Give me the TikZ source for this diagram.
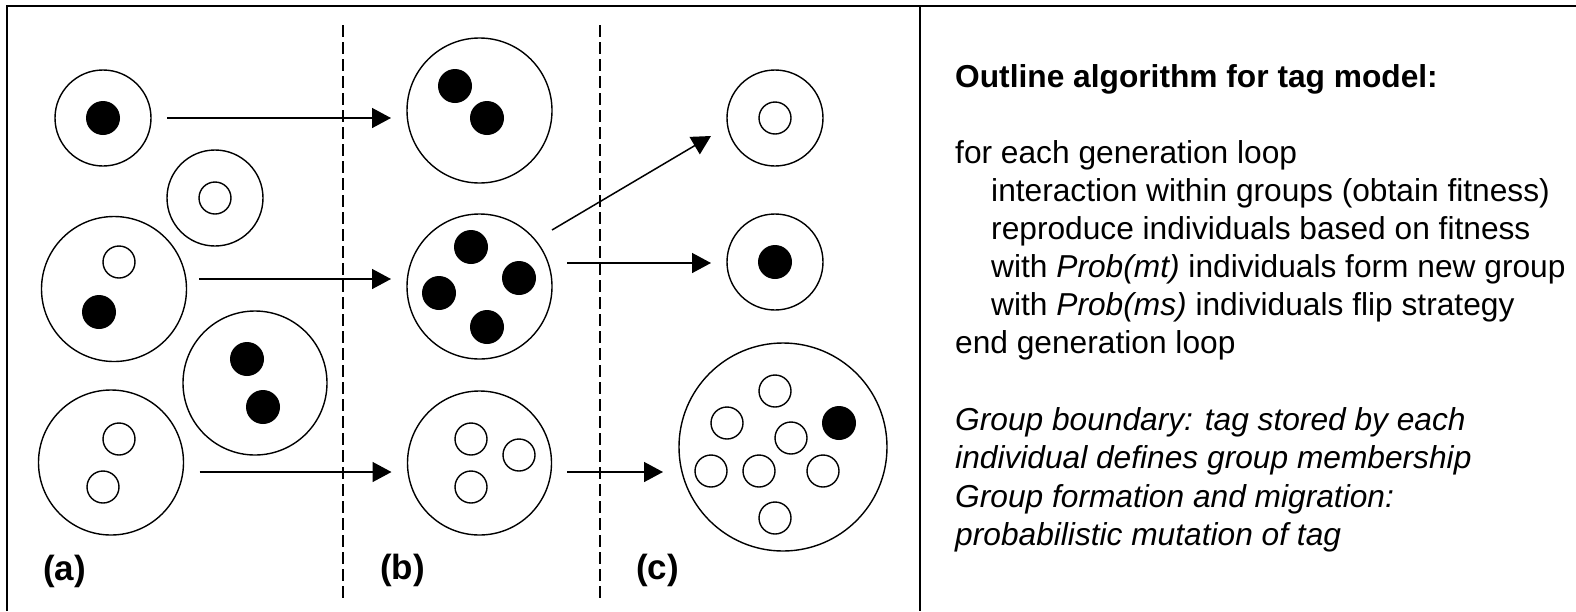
\documentclass[tikz,border=0pt]{standalone}
\usepackage{fontspec}
\setmainfont{Liberation Sans}
\usetikzlibrary{arrows.meta,calc}
\begin{document}
\begin{tikzpicture}[x=1pt,y=-1pt,
  grp/.style={circle,draw,line width=1.4pt,inner sep=0,outer sep=0,minimum size=#1},
  ind/.style={circle,draw,line width=1.4pt,inner sep=0,outer sep=0,minimum size=32pt},
  indf/.style={circle,fill=black,inner sep=0,outer sep=0,minimum size=34pt},
  arr/.style={line width=1.5pt,-{Triangle[length=19pt,width=20pt]}},
  sepline/.style={line width=1.2pt,dash pattern=on 12pt off 5pt},
  frameline/.style={line width=2pt},
  lab/.style={font=\fontsize{35}{40}\selectfont\bfseries,anchor=base west,inner sep=0},
  txt/.style={font=\fontsize{31.7}{36}\selectfont,anchor=base west,inner sep=0},
]
\useasboundingbox (0,0) rectangle (1576,611);

% frame
\draw[frameline] (7,611) -- (7,6) -- (1576,6);
\draw[frameline] (920,6) -- (920,611);
\draw[sepline] (343,25) -- (343,600);
\draw[sepline] (600,25) -- (600,600);

% panel (a)
\node[grp=96pt] (A1) at (103,118) {};
\node[indf] (a1f) at (103,118) {};
\node[grp=96pt] (A2) at (215,198) {};
\node[ind] (a2o) at (215,198) {};
\node[grp=145pt] (A3) at (114,289) {};
\node[ind] (a3o) at (119,262) {};
\node[indf] (a3f) at (99,312) {};
\node[grp=144pt] (A4) at (255,383) {};
\node[indf] (a4f1) at (247,359) {};
\node[indf] (a4f2) at (263,407) {};
\node[grp=145pt] (A5) at (111,462.5) {};
\node[ind] (a5o1) at (119,439) {};
\node[ind] (a5o2) at (103,487) {};

% panel (b)
\node[grp=145pt] (B1) at (479.5,110.5) {};
\node[indf] (b1f1) at (455,86) {};
\node[indf] (b1f2) at (487,118) {};
\node[grp=145pt] (B2) at (479.5,286.5) {};
\node[indf] (b2f1) at (471,247) {};
\node[indf] (b2f2) at (519,278) {};
\node[indf] (b2f3) at (439,293) {};
\node[indf] (b2f4) at (487,327) {};
\node[grp=144pt] (B3) at (479.5,463) {};
\node[ind] (b3o1) at (471,439) {};
\node[ind] (b3o2) at (519,455) {};
\node[ind] (b3o3) at (471,487) {};

% panel (c)
\node[grp=96pt] (C1) at (775,118) {};
\node[ind] (c1o) at (775,118) {};
\node[grp=96pt] (C2) at (775,262) {};
\node[indf] (c2f) at (775,262) {};
\node[grp=208pt] (C3) at (783,447) {};
\node[ind] (c3o1) at (775,391) {};
\node[ind] (c3o2) at (727,423) {};
\node[ind] (c3o3) at (791,438) {};
\node[indf] (c3f) at (839,423) {};
\node[ind] (c3o4) at (711,471) {};
\node[ind] (c3o5) at (759,471) {};
\node[ind] (c3o6) at (823,471) {};
\node[ind] (c3o7) at (775,518) {};

% arrows
\draw[arr] ($(A1.east)+(16,0)$) -- ($(A1.east -| B1.west)+(-16,0)$);
\draw[arr] ($(A3.east)+(12.5,-10)$) -- ($(B2.west)+(-16,-7.5)$);
\draw[arr] ($(A5.east)+(16,9.5)$) -- ($(B3.west)+(-16,9)$);
\draw[arr] ($(B2)+(72.5,-56.5)$) -- ($(C1)+(-64,18)$);
\draw[arr] ($(B2.east)+(15,-23.5)$) -- ($(C2.west)+(-16,1)$);
\draw[arr] ($(B3.east)+(15.5,9)$) -- ($(C3.west)+(-16,25)$);

% labels
\node[lab] (la) at (43,580) {(a)};
\node[lab] (lb) at (380,579) {(b)};
\node[lab] (lc) at (636,579) {(c)};

% text
\node[txt] (t0) at (955,87) {\bfseries Outline algorithm for tag model:};
\node[txt] (t1) at (955,163) {for each generation loop};
\node[txt] (t2) at (991,201) {interaction within groups (obtain fitness)};
\node[txt] (t3) at (991,239) {reproduce individuals based on fitness};
\node[txt] (t4) at (991,277) {with {\itshape Prob(mt)} individuals form new group};
\node[txt] (t5) at (991,315) {with {\itshape Prob(ms)} individuals flip strategy};
\node[txt] (t6) at (955,353) {end generation loop};
\node[txt] (t7) at (955,430) {\itshape Group boundary: tag stored by each};
\node[txt] (t8) at (955,468) {\itshape individual defines group membership};
\node[txt] (t9) at (955,507) {\itshape Group formation and migration:};
\node[txt] (t10) at (955,545) {\itshape probabilistic mutation of tag};
\end{tikzpicture}
\end{document}
